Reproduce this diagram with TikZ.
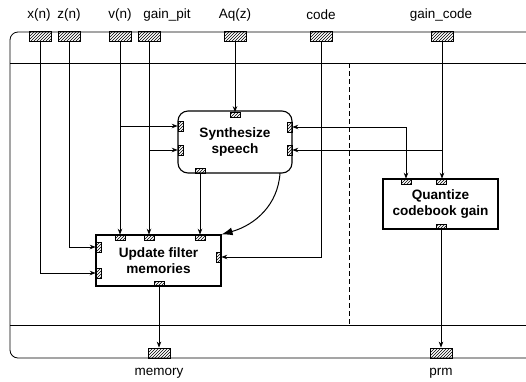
\documentclass[tikz,border=0pt]{standalone}
\usepackage{fontspec}
\setmainfont{Liberation Sans}
\usetikzlibrary{patterns,arrows.meta}
\begin{document}
\begin{tikzpicture}[x=1pt,y=-1pt,
  line width=0.8pt,
  arr/.style={-{Stealth[length=6pt,width=4.5pt]}},
  bport/.style={draw,pattern=north east lines,minimum width=22pt,minimum height=10pt,inner sep=0pt,line width=0.8pt},
  hport/.style={draw,fill=white,pattern=north east lines,minimum width=10pt,minimum height=5pt,inner sep=0pt,line width=0.6pt},
  vport/.style={draw,fill=white,pattern=north east lines,minimum width=5pt,minimum height=10pt,inner sep=0pt,line width=0.6pt},
  lbl/.style={font=\fontsize{13.5}{15}\selectfont,inner sep=0pt},
  box/.style={draw,line width=1.1pt,align=center,inner sep=0pt,font=\fontsize{13.6}{16.5}\selectfont\bfseries}
]
\useasboundingbox (0,0) rectangle (526,381);
% frame
\draw[rounded corners=8pt] (526,32) -- (10,32) -- (10,358) -- (526,358);
\draw (10,63) -- (526,63);
\draw (10,325) -- (526,325);
\draw[dashed,dash pattern=on 5pt off 3pt] (349,63) -- (349,325);

% top ports
\node[bport] (xn) at (40,36.5) {};
\node[bport] (zn) at (69,36.5) {};
\node[bport] (vn) at (120,36.5) {};
\node[bport] (gp) at (149,36.5) {};
\node[bport] (aq) at (235,36.5) {};
\node[bport] (cd) at (321,36.5) {};
\node[bport] (gc) at (442,36.5) {};
\node[lbl] (lxn) at (39,15) {x(n)};
\node[lbl] (lzn) at (69,15) {z(n)};
\node[lbl] (lvn) at (120,15) {v(n)};
\node[lbl] (lgp) at (167,15) {gain\_pit};
\node[lbl] (laq) at (235,15) {Aq(z)};
\node[lbl] (lcd) at (321,15) {code};
\node[lbl] (lgc) at (441,15) {gain\_code};

% bottom ports
\node[bport] (mem) at (159,353) {};
\node[bport] (prm) at (441,353) {};
\node[lbl] (lmem) at (159,373) {memory};
\node[lbl] (lprm) at (441,373) {prm};

% boxes
\node[box,rounded corners=10pt,minimum width=114pt,minimum height=62pt] (syn) at (235,142) {Synthesize\\speech};
\node[box,minimum width=125pt,minimum height=51pt] (upd) at (158.5,260.5) {Update filter\\memories};
\node[box,minimum width=115pt,minimum height=50pt] (qnt) at (440.5,204) {Quantize\\codebook gain};

% box ports
\node[hport] (st) at (235,115) {};
\node[hport] (sb) at (200,170.5) {};
\node[vport] (sl1) at (180.5,126) {};
\node[vport] (sl2) at (180.5,150) {};
\node[vport] (sr1) at (289.5,127) {};
\node[vport] (sr2) at (289.5,150) {};
\node[hport] (ut1) at (120,237.5) {};
\node[hport] (ut2) at (149,237.5) {};
\node[hport] (ut3) at (200,237.5) {};
\node[vport] (ul1) at (98.5,247) {};
\node[vport] (ul2) at (98.5,273) {};
\node[vport] (ur) at (218.5,257) {};
\node[hport] (ub) at (159,283.5) {};
\node[hport] (qt1) at (406,181.5) {};
\node[hport] (qt2) at (441,181.5) {};
\node[hport] (qb) at (441,226.5) {};

% connectors
\draw[arr] (xn.south) |- (ul2.west);
\draw[arr] (zn.south) |- (ul1.west);
\draw[arr] (vn.south) -- (vn.south |- ut1.north);
\draw[arr] (vn.south |- sl1.west) -- (sl1.west);
\draw[arr] (gp.south) -- (gp.south |- ut2.north);
\draw[arr] (gp.south |- sl2.west) -- (sl2.west);
\draw[arr] (aq.south) -- (st.north);
\draw[arr] (cd.south) |- (ur.east);
\draw[arr] (gc.south) -- (gc.south |- qt2.north);
\draw[arr] (gc.south |- sr2.east) -- (sr2.east);
\draw[{Stealth[length=6pt,width=4.5pt]}-{Stealth[length=6pt,width=4.5pt]}] (sr1.east) -| (qt1.north);
\draw[arr] (sb.south) -- (ut3.north);
\draw[-{Latex[length=11pt,width=8pt]},line width=1pt] (280,173) .. controls (278,205) and (255,225) .. (upd.north east);
\draw[arr] (ub.south) -- (mem.north);
\draw[arr] (qb.south) -- (prm.north);
\end{tikzpicture}
\end{document}
